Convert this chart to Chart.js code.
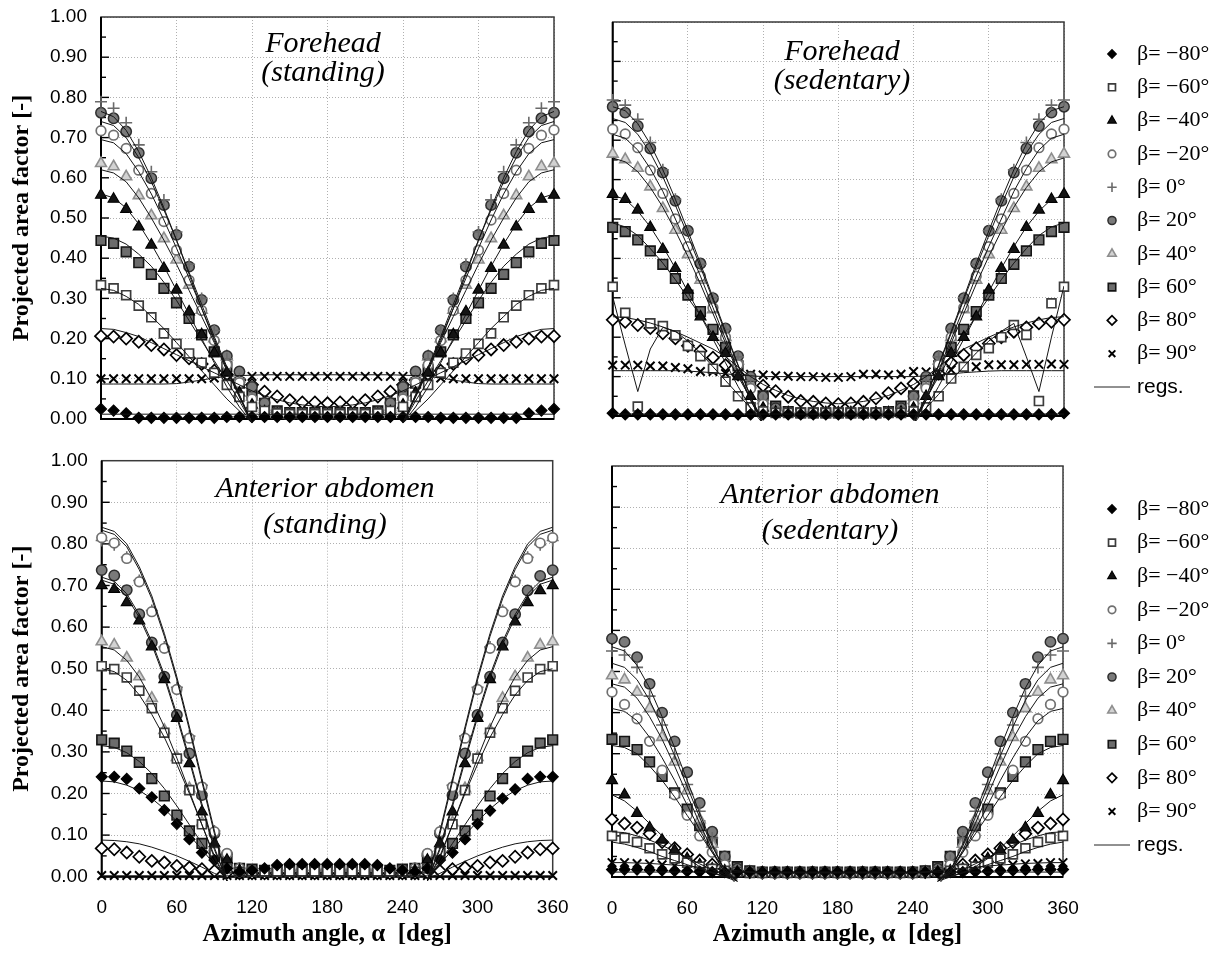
<!DOCTYPE html>
<html>
<head>
<meta charset="utf-8">
<title>Projected area factor vs azimuth angle</title>
<script src="https://cdn.jsdelivr.net/npm/chart.js@4.4.1/dist/chart.umd.min.js"></script>
<style>
  html, body { margin: 0; padding: 0; background: #fff; }
  body { width: 1220px; height: 953px; position: relative; overflow: hidden; font-family: "Liberation Sans", Arial, sans-serif; }
  canvas { position: absolute; }
  .ptitle { position: absolute; width: 320px; text-align: center; font-family: "Liberation Serif", "Times New Roman", serif;
            font-style: italic; font-size: 30px; line-height: 30px; color: #000; white-space: nowrap; }
</style>
</head>
<body>
<canvas id="fhStand" width="570" height="440" style="left:0;top:0"></canvas>
<canvas id="fhSed" width="650" height="440" style="left:570px;top:0"></canvas>
<canvas id="abStand" width="570" height="513" style="left:0;top:440px"></canvas>
<canvas id="abSed" width="650" height="513" style="left:570px;top:440px"></canvas>

<div class="ptitle" style="left:163px;top:27px">Forehead</div>
<div class="ptitle" style="left:163px;top:56px">(standing)</div>
<div class="ptitle" style="left:682px;top:35px">Forehead</div>
<div class="ptitle" style="left:682px;top:64px">(sedentary)</div>
<div class="ptitle" style="left:165px;top:472px">Anterior abdomen</div>
<div class="ptitle" style="left:165px;top:508px">(standing)</div>
<div class="ptitle" style="left:670px;top:478px">Anterior abdomen</div>
<div class="ptitle" style="left:670px;top:514px">(sedentary)</div>

<script>
// Azimuth angles of the measurement grid (deg)
const AZIMUTH = [0,10,20,30,40,50,60,70,80,90,100,110,120,130,140,150,160,170,180,
                 190,200,210,220,230,240,250,260,270,280,290,300,310,320,330,340,350,360];
const X_TICKS = [0,60,120,180,240,300,360];
const Y_TICKS = [0,0.1,0.2,0.3,0.4,0.5,0.6,0.7,0.8,0.9,1.0];
const BETA_LABELS = ['β= −80°','β= −60°','β= −40°','β= −20°','β= 0°','β= 20°','β= 40°','β= 60°','β= 80°','β= 90°'];

// ---- Forehead, standing: measured factors per altitude β ----
const FHS_M80 = [0.025,0.021,0.014,0.003,0.003,0.003,0.003,0.003,0.003,0.003,0.005,0.005,0.005,0.005,0.005,0.005,0.005,0.005,0.005,0.005,0.005,0.005,0.005,0.005,0.005,0.005,0.005,0.003,0.003,0.003,0.003,0.003,0.003,0.003,0.014,0.021,0.025];
const FHS_M60 = [0.333,0.325,0.308,0.282,0.253,0.213,0.187,0.163,0.14,0.115,0.085,0.055,0.03,0.02,0.014,0.012,0.012,0.012,0.012,0.012,0.012,0.012,0.014,0.02,0.03,0.055,0.085,0.115,0.14,0.163,0.187,0.213,0.253,0.282,0.308,0.325,0.333];
const FHS_M40 = [0.557,0.547,0.522,0.478,0.433,0.375,0.321,0.267,0.21,0.165,0.115,0.065,0.035,0.018,0.012,0.01,0.01,0.01,0.01,0.01,0.01,0.01,0.012,0.018,0.035,0.065,0.115,0.165,0.21,0.267,0.321,0.375,0.433,0.478,0.522,0.547,0.557];
const FHS_M20 = [0.717,0.706,0.673,0.619,0.561,0.491,0.42,0.345,0.27,0.195,0.135,0.09,0.05,0.022,0.012,0.01,0.01,0.01,0.01,0.01,0.01,0.01,0.012,0.022,0.05,0.09,0.135,0.195,0.27,0.345,0.42,0.495,0.561,0.619,0.673,0.706,0.719];
const FHS_P0  = [0.789,0.773,0.737,0.682,0.615,0.545,0.465,0.385,0.3,0.22,0.15,0.1,0.055,0.022,0.012,0.01,0.01,0.01,0.01,0.01,0.01,0.01,0.012,0.022,0.055,0.1,0.15,0.22,0.3,0.385,0.465,0.545,0.615,0.682,0.737,0.773,0.789];
const FHS_P20 = [0.762,0.748,0.715,0.662,0.599,0.532,0.458,0.379,0.296,0.221,0.157,0.118,0.08,0.04,0.018,0.012,0.01,0.01,0.01,0.01,0.01,0.012,0.018,0.04,0.08,0.118,0.157,0.221,0.296,0.379,0.458,0.532,0.599,0.662,0.715,0.748,0.762];
const FHS_P40 = [0.636,0.628,0.603,0.556,0.506,0.449,0.396,0.333,0.271,0.2,0.155,0.1,0.055,0.025,0.012,0.01,0.01,0.01,0.01,0.01,0.01,0.01,0.012,0.025,0.055,0.1,0.155,0.2,0.271,0.333,0.396,0.449,0.506,0.556,0.603,0.628,0.636];
const FHS_P60 = [0.444,0.437,0.416,0.389,0.36,0.325,0.289,0.25,0.209,0.167,0.13,0.089,0.06,0.039,0.02,0.016,0.016,0.016,0.016,0.016,0.016,0.016,0.02,0.039,0.06,0.089,0.122,0.167,0.209,0.25,0.289,0.325,0.36,0.389,0.416,0.437,0.444];
const FHS_P80 = [0.206,0.205,0.2,0.192,0.184,0.173,0.159,0.151,0.137,0.12,0.111,0.097,0.085,0.068,0.056,0.047,0.041,0.041,0.039,0.041,0.041,0.047,0.056,0.068,0.085,0.097,0.111,0.12,0.137,0.151,0.159,0.173,0.184,0.192,0.2,0.205,0.206];
const FHS_P90 = [0.1,0.1,0.1,0.1,0.1,0.1,0.1,0.1,0.1,0.102,0.104,0.105,0.106,0.106,0.106,0.106,0.106,0.106,0.106,0.106,0.106,0.106,0.106,0.106,0.106,0.105,0.104,0.102,0.1,0.1,0.1,0.1,0.1,0.1,0.1,0.1,0.1];

// Forehead, standing: regression curves
const FHS_FIT_M80 = [0.012,0.012,0.012,0.012,0.012,0.012,0.012,0.012,0.012,0.012,0.012,0.012,0.012,0.012,0.012,0.012,0.012,0.012,0.012,0.012,0.012,0.012,0.012,0.012,0.012,0.012,0.012,0.012,0.012,0.012,0.012,0.012,0.012,0.012,0.012,0.012,0.012];
const FHS_FIT_M60 = [0.325,0.32,0.305,0.285,0.255,0.225,0.19,0.155,0.12,0.085,0.05,0.02,-0.01,null,null,null,null,null,null,null,null,null,null,null,-0.01,0.02,0.05,0.085,0.12,0.155,0.19,0.225,0.255,0.285,0.305,0.32,0.325];
const FHS_FIT_M40 = [0.56,0.55,0.525,0.485,0.435,0.38,0.32,0.26,0.2,0.14,0.08,0.03,-0.01,null,null,null,null,null,null,null,null,null,null,null,-0.01,0.03,0.08,0.14,0.2,0.26,0.32,0.38,0.435,0.485,0.525,0.55,0.56];
const FHS_FIT_M20 = [0.695,0.687,0.66,0.615,0.56,0.495,0.425,0.35,0.275,0.2,0.125,0.055,-0.01,null,null,null,null,null,null,null,null,null,null,null,-0.01,0.055,0.125,0.2,0.275,0.35,0.425,0.495,0.56,0.615,0.66,0.687,0.695];
const FHS_FIT_P0  = [0.765,0.752,0.718,0.665,0.6,0.525,0.445,0.36,0.275,0.195,0.125,0.06,-0.01,null,null,null,null,null,null,null,null,null,null,null,-0.01,0.06,0.125,0.195,0.275,0.36,0.445,0.525,0.6,0.665,0.718,0.752,0.765];
const FHS_FIT_P20 = [0.74,0.73,0.7,0.65,0.59,0.52,0.445,0.365,0.285,0.205,0.13,0.06,-0.01,null,null,null,null,null,null,null,null,null,null,null,-0.01,0.06,0.13,0.205,0.285,0.365,0.445,0.52,0.59,0.65,0.7,0.73,0.74];
const FHS_FIT_P40 = [0.62,0.612,0.59,0.55,0.5,0.445,0.385,0.32,0.255,0.19,0.12,0.055,-0.01,null,null,null,null,null,null,null,null,null,null,null,-0.01,0.055,0.12,0.19,0.255,0.32,0.385,0.445,0.5,0.55,0.59,0.612,0.62];
const FHS_FIT_P60 = [0.455,0.45,0.435,0.41,0.38,0.34,0.295,0.245,0.195,0.145,0.095,0.045,-0.01,null,null,null,null,null,null,null,null,null,null,null,-0.01,0.045,0.095,0.145,0.195,0.245,0.295,0.34,0.38,0.41,0.435,0.45,0.455];
const FHS_FIT_P80 = [0.225,0.223,0.215,0.205,0.19,0.175,0.16,0.145,0.13,0.115,0.1,0.085,0.07,0.058,0.048,0.04,0.035,0.032,0.03,0.032,0.035,0.04,0.048,0.058,0.07,0.085,0.1,0.115,0.13,0.145,0.16,0.175,0.19,0.205,0.215,0.223,0.225];
const FHS_FIT_P90 = [0.087,0.087,0.087,0.087,0.087,0.087,0.088,0.092,0.097,0.102,0.106,0.108,0.109,0.11,0.11,0.11,0.11,0.11,0.11,0.11,0.11,0.11,0.11,0.11,0.109,0.108,0.106,0.102,0.097,0.092,0.088,0.087,0.087,0.087,0.087,0.087,0.087];

// ---- Forehead, sedentary ----
const FHD_M80 = [0.007,0.004,0.004,0.004,0.004,0.004,0.004,0.004,0.004,0.004,0.004,0.004,0.004,0.004,0.004,0.004,0.004,0.004,0.004,0.004,0.004,0.004,0.004,0.004,0.004,0.004,0.004,0.004,0.004,0.004,0.004,0.004,0.004,0.004,0.004,0.004,0.007];
const FHD_M60 = [0.328,0.262,0.024,0.235,0.228,0.205,0.178,0.152,0.12,0.087,0.05,0.022,0.012,0.008,0.008,0.008,0.008,0.008,0.008,0.008,0.008,0.008,0.008,0.008,0.012,0.022,0.05,0.095,0.125,0.155,0.172,0.2,0.231,0.206,0.038,0.286,0.328];
const FHD_M40 = [0.563,0.55,0.523,0.479,0.423,0.375,0.32,0.252,0.2,0.159,0.1,0.05,0.02,0.01,0.008,0.008,0.008,0.008,0.008,0.008,0.008,0.008,0.008,0.01,0.02,0.05,0.1,0.159,0.2,0.252,0.32,0.375,0.423,0.479,0.523,0.55,0.563];
const FHD_M20 = [0.728,0.716,0.681,0.624,0.565,0.5,0.43,0.355,0.275,0.2,0.13,0.07,0.03,0.012,0.008,0.008,0.008,0.008,0.008,0.008,0.008,0.008,0.008,0.012,0.03,0.07,0.13,0.2,0.275,0.355,0.43,0.5,0.565,0.624,0.681,0.716,0.728];
const FHD_P0  = [0.802,0.789,0.753,0.694,0.625,0.55,0.47,0.385,0.3,0.22,0.15,0.09,0.04,0.015,0.008,0.008,0.008,0.008,0.008,0.008,0.008,0.008,0.008,0.015,0.04,0.09,0.15,0.22,0.3,0.385,0.47,0.55,0.625,0.694,0.753,0.789,0.802];
const FHD_P20 = [0.785,0.77,0.736,0.679,0.618,0.546,0.47,0.387,0.299,0.222,0.152,0.1,0.05,0.02,0.01,0.008,0.008,0.008,0.008,0.008,0.008,0.008,0.01,0.02,0.05,0.1,0.152,0.222,0.299,0.387,0.47,0.546,0.618,0.679,0.736,0.77,0.785];
const FHD_P40 = [0.665,0.651,0.629,0.582,0.527,0.472,0.41,0.345,0.27,0.2,0.14,0.08,0.04,0.015,0.008,0.008,0.008,0.008,0.008,0.008,0.008,0.008,0.008,0.015,0.04,0.08,0.14,0.2,0.27,0.345,0.41,0.472,0.527,0.582,0.629,0.651,0.665];
const FHD_P60 = [0.479,0.468,0.447,0.419,0.385,0.349,0.307,0.265,0.22,0.174,0.127,0.087,0.051,0.025,0.011,0.008,0.008,0.008,0.008,0.008,0.008,0.008,0.011,0.025,0.051,0.087,0.127,0.174,0.22,0.265,0.307,0.349,0.385,0.419,0.447,0.468,0.479];
const FHD_P80 = [0.244,0.239,0.231,0.223,0.21,0.197,0.178,0.165,0.148,0.129,0.105,0.09,0.077,0.063,0.049,0.038,0.036,0.032,0.03,0.032,0.036,0.045,0.058,0.07,0.082,0.091,0.108,0.135,0.155,0.172,0.184,0.2,0.214,0.225,0.235,0.239,0.244];
const FHD_P90 = [0.129,0.129,0.129,0.127,0.127,0.123,0.12,0.113,0.113,0.108,0.11,0.106,0.104,0.102,0.101,0.1,0.1,0.098,0.098,0.1,0.106,0.106,0.104,0.106,0.113,0.112,0.108,0.117,0.125,0.125,0.13,0.13,0.13,0.131,0.131,0.132,0.131];

// Forehead, sedentary: regression curves
const FHD_FIT_M80 = [0.005,0.005,0.005,0.005,0.005,0.005,0.005,0.005,0.005,0.005,0.005,0.005,0.005,0.005,0.005,0.005,0.005,0.005,0.005,0.005,0.005,0.005,0.005,0.005,0.005,0.005,0.005,0.005,0.005,0.005,0.005,0.005,0.005,0.005,0.005,0.005,0.005];
const FHD_FIT_M60 = [0.303,0.18,0.062,0.17,0.225,0.215,0.19,0.16,0.125,0.09,0.055,0.02,-0.01,null,null,null,null,null,null,null,null,null,null,null,-0.01,0.02,0.055,0.09,0.125,0.16,0.19,0.215,0.235,0.15,0.062,0.2,0.33];
const FHD_FIT_M40 = [0.56,0.55,0.52,0.48,0.43,0.375,0.315,0.255,0.195,0.135,0.075,0.02,-0.02,null,null,null,null,null,null,null,null,null,null,null,-0.02,0.02,0.075,0.135,0.195,0.255,0.315,0.375,0.43,0.48,0.52,0.55,0.56];
const FHD_FIT_M20 = [0.715,0.705,0.675,0.628,0.57,0.5,0.43,0.355,0.275,0.195,0.115,0.04,-0.02,null,null,null,null,null,null,null,null,null,null,null,-0.02,0.04,0.115,0.195,0.275,0.355,0.43,0.5,0.57,0.628,0.675,0.705,0.715];
const FHD_FIT_P0  = [0.755,0.745,0.715,0.668,0.607,0.535,0.458,0.378,0.295,0.21,0.128,0.048,-0.02,null,null,null,null,null,null,null,null,null,null,null,-0.02,0.048,0.128,0.21,0.295,0.378,0.458,0.535,0.607,0.668,0.715,0.745,0.755];
const FHD_FIT_P20 = [0.785,0.775,0.742,0.69,0.625,0.55,0.47,0.387,0.3,0.215,0.13,0.05,-0.02,null,null,null,null,null,null,null,null,null,null,null,-0.02,0.05,0.13,0.215,0.3,0.387,0.47,0.55,0.625,0.69,0.742,0.775,0.785];
const FHD_FIT_P40 = [0.655,0.645,0.62,0.58,0.53,0.47,0.405,0.335,0.26,0.185,0.11,0.04,-0.02,null,null,null,null,null,null,null,null,null,null,null,-0.02,0.04,0.11,0.185,0.26,0.335,0.405,0.47,0.53,0.58,0.62,0.645,0.655];
const FHD_FIT_P60 = [0.49,0.48,0.458,0.425,0.388,0.346,0.3,0.255,0.205,0.155,0.1,0.045,-0.01,null,null,null,null,null,null,null,null,null,null,null,-0.01,0.045,0.1,0.155,0.205,0.255,0.3,0.346,0.388,0.425,0.458,0.48,0.49];
const FHD_FIT_P80 = [0.252,0.25,0.244,0.236,0.226,0.214,0.2,0.185,0.17,0.15,0.125,0.1,0.08,0.065,0.052,0.043,0.037,0.033,0.031,0.033,0.037,0.043,0.052,0.065,0.08,0.1,0.125,0.15,0.17,0.185,0.2,0.214,0.226,0.236,0.244,0.25,0.252];
const FHD_FIT_P90 = [0.115,0.115,0.115,0.115,0.115,0.115,0.114,0.112,0.11,0.107,0.104,0.102,0.1,0.1,0.1,0.1,0.1,0.1,0.1,0.1,0.1,0.1,0.1,0.1,0.1,0.102,0.104,0.107,0.11,0.112,0.114,0.115,0.115,0.115,0.115,0.115,0.115];

// ---- Anterior abdomen, standing ----
const ABS_M80 = [0.24,0.24,0.235,0.212,0.191,0.16,0.127,0.09,0.058,0.04,0.02,0.012,0.015,0.02,0.028,0.03,0.03,0.03,0.03,0.03,0.03,0.03,0.028,0.02,0.015,0.012,0.02,0.04,0.058,0.09,0.127,0.159,0.188,0.21,0.235,0.24,0.24];
const ABS_M60 = [0.506,0.499,0.479,0.447,0.405,0.346,0.284,0.208,0.126,0.06,0.02,0.012,0.012,0.012,0.012,0.012,0.012,0.012,0.012,0.012,0.012,0.012,0.012,0.012,0.012,0.012,0.02,0.06,0.126,0.208,0.284,0.346,0.405,0.447,0.479,0.499,0.506];
const ABS_M40 = [0.7,0.691,0.659,0.615,0.553,0.474,0.381,0.272,0.156,0.08,0.04,0.015,0.012,0.012,0.012,0.012,0.012,0.012,0.012,0.012,0.012,0.012,0.012,0.012,0.012,0.015,0.04,0.08,0.156,0.272,0.381,0.474,0.553,0.613,0.659,0.688,0.7];
const ABS_M20 = [0.815,0.802,0.765,0.709,0.637,0.549,0.45,0.333,0.216,0.108,0.056,0.02,0.015,0.015,0.015,0.015,0.015,0.015,0.015,0.015,0.015,0.015,0.015,0.015,0.015,0.02,0.056,0.108,0.216,0.333,0.45,0.549,0.637,0.709,0.765,0.802,0.815];
const ABS_P0  = [0.808,0.798,0.768,0.712,0.64,0.552,0.455,0.338,0.22,0.11,0.05,0.02,0.015,0.015,0.015,0.015,0.015,0.015,0.015,0.015,0.015,0.015,0.015,0.015,0.015,0.02,0.05,0.11,0.22,0.338,0.455,0.552,0.64,0.712,0.768,0.798,0.808];
const ABS_P20 = [0.737,0.724,0.689,0.631,0.563,0.481,0.389,0.296,0.196,0.104,0.054,0.02,0.015,0.015,0.015,0.015,0.015,0.015,0.015,0.015,0.015,0.015,0.015,0.015,0.015,0.02,0.054,0.104,0.196,0.296,0.389,0.481,0.563,0.631,0.688,0.723,0.737];
const ABS_P40 = [0.565,0.557,0.526,0.481,0.429,0.352,0.287,0.212,0.13,0.07,0.03,0.012,0.012,0.012,0.012,0.012,0.012,0.012,0.012,0.012,0.012,0.012,0.012,0.012,0.012,0.012,0.03,0.07,0.13,0.212,0.287,0.352,0.429,0.481,0.526,0.557,0.565];
const ABS_P60 = [0.329,0.321,0.302,0.275,0.236,0.194,0.148,0.11,0.08,0.056,0.036,0.02,0.018,0.015,0.015,0.015,0.015,0.015,0.015,0.015,0.015,0.015,0.015,0.015,0.018,0.02,0.036,0.056,0.08,0.11,0.148,0.194,0.236,0.275,0.302,0.321,0.329];
const ABS_P80 = [0.068,0.066,0.058,0.048,0.038,0.034,0.026,0.022,0.018,0.014,0.01,0.008,0.008,0.008,0.008,0.008,0.008,0.008,0.008,0.008,0.008,0.008,0.008,0.008,0.008,0.008,0.01,0.014,0.018,0.022,0.026,0.034,0.038,0.048,0.058,0.066,0.068];
const ABS_P90 = [0.003,0.003,0.003,0.003,0.003,0.003,0.003,0.003,0.003,0.003,0.003,0.003,0.003,0.003,0.003,0.003,0.003,0.003,0.003,0.003,0.003,0.003,0.003,0.003,0.003,0.003,0.003,0.003,0.003,0.003,0.003,0.003,0.003,0.003,0.003,0.003,0.003];

// Anterior abdomen, standing: regression curves
const ABS_FIT_M80 = [0.23,0.228,0.22,0.207,0.188,0.163,0.133,0.1,0.065,0.03,-0.005,null,null,null,null,null,null,null,null,null,null,null,null,null,null,null,-0.005,0.03,0.065,0.1,0.133,0.163,0.188,0.207,0.22,0.228,0.23];
const ABS_FIT_M60 = [0.5,0.493,0.472,0.437,0.39,0.335,0.27,0.2,0.125,0.05,-0.01,null,null,null,null,null,null,null,null,null,null,null,null,null,null,null,-0.01,0.05,0.125,0.2,0.27,0.335,0.39,0.437,0.472,0.493,0.5];
const ABS_FIT_M40 = [0.713,0.703,0.673,0.623,0.558,0.478,0.383,0.278,0.168,0.065,-0.01,null,null,null,null,null,null,null,null,null,null,null,null,null,null,null,-0.01,0.065,0.168,0.278,0.383,0.478,0.558,0.623,0.673,0.703,0.713];
const ABS_FIT_M20 = [0.833,0.823,0.793,0.738,0.668,0.578,0.473,0.353,0.228,0.103,-0.01,null,null,null,null,null,null,null,null,null,null,null,null,null,null,null,-0.01,0.103,0.228,0.353,0.473,0.578,0.668,0.738,0.793,0.823,0.833];
const ABS_FIT_P0  = [0.84,0.83,0.8,0.745,0.675,0.585,0.48,0.36,0.235,0.11,-0.01,null,null,null,null,null,null,null,null,null,null,null,null,null,null,null,-0.01,0.11,0.235,0.36,0.48,0.585,0.675,0.745,0.8,0.83,0.84];
const ABS_FIT_P20 = [0.72,0.71,0.68,0.63,0.565,0.485,0.39,0.285,0.175,0.07,-0.01,null,null,null,null,null,null,null,null,null,null,null,null,null,null,null,-0.01,0.07,0.175,0.285,0.39,0.485,0.565,0.63,0.68,0.71,0.72];
const ABS_FIT_P40 = [0.553,0.545,0.52,0.48,0.425,0.36,0.285,0.205,0.125,0.045,-0.01,null,null,null,null,null,null,null,null,null,null,null,null,null,null,null,-0.01,0.045,0.125,0.205,0.285,0.36,0.425,0.48,0.52,0.545,0.553];
const ABS_FIT_P60 = [0.315,0.311,0.298,0.277,0.248,0.212,0.17,0.125,0.08,0.035,-0.005,null,null,null,null,null,null,null,null,null,null,null,null,null,null,null,-0.005,0.035,0.08,0.125,0.17,0.212,0.248,0.277,0.298,0.311,0.315];
const ABS_FIT_P80 = [0.088,0.087,0.084,0.079,0.071,0.061,0.05,0.037,0.023,0.008,-0.005,null,null,null,null,null,null,null,null,null,null,null,null,null,null,null,-0.005,0.008,0.023,0.037,0.05,0.061,0.071,0.079,0.084,0.087,0.088];
const ABS_FIT_P90 = [0.002,0.002,0.002,0.002,0.002,0.002,0.002,0.002,0.002,0.002,0.002,0.002,0.002,0.002,0.002,0.002,0.002,0.002,0.002,0.002,0.002,0.002,0.002,0.002,0.002,0.002,0.002,0.002,0.002,0.002,0.002,0.002,0.002,0.002,0.002,0.002,0.002];

// ---- Anterior abdomen, sedentary ----
const ABD_M80 = [0.018,0.018,0.018,0.017,0.016,0.015,0.014,0.013,0.012,0.012,0.012,0.012,0.012,0.012,0.012,0.012,0.012,0.012,0.012,0.012,0.012,0.012,0.012,0.012,0.012,0.012,0.012,0.012,0.012,0.013,0.014,0.015,0.016,0.017,0.018,0.018,0.018];
const ABD_M60 = [0.1,0.095,0.085,0.07,0.055,0.045,0.035,0.025,0.02,0.015,0.012,0.01,0.01,0.01,0.01,0.01,0.01,0.01,0.01,0.01,0.01,0.01,0.01,0.01,0.01,0.01,0.012,0.015,0.02,0.025,0.035,0.045,0.055,0.07,0.085,0.095,0.1];
const ABD_M40 = [0.235,0.2,0.155,0.12,0.09,0.065,0.045,0.03,0.02,0.015,0.012,0.01,0.01,0.01,0.01,0.01,0.01,0.01,0.01,0.01,0.01,0.01,0.01,0.01,0.01,0.01,0.012,0.015,0.02,0.03,0.045,0.065,0.09,0.12,0.155,0.2,0.235];
const ABD_M20 = [0.45,0.42,0.385,0.33,0.26,0.2,0.15,0.1,0.06,0.03,0.015,0.012,0.01,0.01,0.01,0.01,0.01,0.01,0.01,0.01,0.01,0.01,0.01,0.01,0.01,0.012,0.015,0.03,0.06,0.1,0.15,0.2,0.26,0.33,0.385,0.42,0.45];
const ABD_P0  = [0.55,0.54,0.51,0.44,0.37,0.3,0.225,0.16,0.095,0.04,0.015,0.012,0.01,0.01,0.01,0.01,0.01,0.01,0.01,0.01,0.01,0.01,0.01,0.01,0.01,0.012,0.015,0.04,0.095,0.16,0.225,0.3,0.37,0.44,0.51,0.54,0.55];
const ABD_P20 = [0.58,0.572,0.535,0.47,0.4,0.33,0.255,0.18,0.11,0.05,0.02,0.015,0.012,0.012,0.012,0.012,0.012,0.012,0.012,0.012,0.012,0.012,0.012,0.012,0.012,0.015,0.02,0.05,0.11,0.18,0.255,0.33,0.4,0.47,0.535,0.572,0.58];
const ABD_P40 = [0.49,0.48,0.45,0.41,0.34,0.28,0.21,0.14,0.08,0.035,0.015,0.012,0.01,0.01,0.01,0.01,0.01,0.01,0.01,0.01,0.01,0.01,0.01,0.01,0.01,0.012,0.015,0.035,0.08,0.14,0.21,0.28,0.34,0.41,0.45,0.48,0.49];
const ABD_P60 = [0.335,0.33,0.31,0.28,0.245,0.205,0.165,0.125,0.085,0.05,0.025,0.015,0.012,0.012,0.012,0.012,0.012,0.012,0.012,0.012,0.012,0.012,0.012,0.012,0.012,0.015,0.025,0.05,0.085,0.125,0.165,0.205,0.245,0.28,0.31,0.33,0.335];
const ABD_P80 = [0.14,0.13,0.12,0.105,0.085,0.07,0.055,0.04,0.03,0.02,0.015,0.012,0.01,0.01,0.01,0.01,0.01,0.01,0.01,0.01,0.01,0.01,0.01,0.01,0.01,0.012,0.015,0.02,0.03,0.04,0.055,0.07,0.085,0.105,0.12,0.13,0.14];
const ABD_P90 = [0.035,0.035,0.033,0.032,0.03,0.027,0.025,0.022,0.02,0.018,0.015,0.012,0.01,0.01,0.01,0.01,0.01,0.01,0.01,0.01,0.01,0.01,0.01,0.01,0.01,0.012,0.015,0.018,0.02,0.022,0.025,0.027,0.03,0.032,0.033,0.035,0.035];

// Anterior abdomen, sedentary: regression curves
const ABD_FIT_M80 = [0.012,0.012,0.012,0.012,0.012,0.012,0.012,0.012,0.012,0.012,0.012,0.012,0.012,0.012,0.012,0.012,0.012,0.012,0.012,0.012,0.012,0.012,0.012,0.012,0.012,0.012,0.012,0.012,0.012,0.012,0.012,0.012,0.012,0.012,0.012,0.012,0.012];
const ABD_FIT_M60 = [0.085,0.08,0.072,0.062,0.05,0.04,0.03,0.02,0.01,0.002,-0.005,null,null,null,null,null,null,null,null,null,null,null,null,null,null,null,-0.005,0.002,0.01,0.02,0.03,0.04,0.05,0.062,0.072,0.08,0.085];
const ABD_FIT_M40 = [0.2,0.185,0.16,0.13,0.1,0.07,0.045,0.025,0.01,0.0,-0.01,null,null,null,null,null,null,null,null,null,null,null,null,null,null,null,-0.01,0.0,0.01,0.025,0.045,0.07,0.1,0.13,0.16,0.185,0.2];
const ABD_FIT_M20 = [0.41,0.403,0.38,0.34,0.29,0.235,0.175,0.115,0.06,0.01,-0.01,null,null,null,null,null,null,null,null,null,null,null,null,null,null,null,-0.01,0.01,0.06,0.115,0.175,0.235,0.29,0.34,0.38,0.403,0.41];
const ABD_FIT_P0  = [0.52,0.51,0.48,0.43,0.365,0.295,0.22,0.145,0.075,0.015,-0.01,null,null,null,null,null,null,null,null,null,null,null,null,null,null,null,-0.01,0.015,0.075,0.145,0.22,0.295,0.365,0.43,0.48,0.51,0.52];
const ABD_FIT_P20 = [0.56,0.55,0.515,0.46,0.39,0.315,0.235,0.155,0.08,0.015,-0.02,null,null,null,null,null,null,null,null,null,null,null,null,null,null,null,-0.02,0.015,0.08,0.155,0.235,0.315,0.39,0.46,0.515,0.55,0.56];
const ABD_FIT_P40 = [0.47,0.462,0.435,0.39,0.335,0.27,0.2,0.13,0.065,0.01,-0.01,null,null,null,null,null,null,null,null,null,null,null,null,null,null,null,-0.01,0.01,0.065,0.13,0.2,0.27,0.335,0.39,0.435,0.462,0.47];
const ABD_FIT_P60 = [0.32,0.315,0.3,0.27,0.235,0.195,0.15,0.105,0.06,0.02,-0.01,null,null,null,null,null,null,null,null,null,null,null,null,null,null,null,-0.01,0.02,0.06,0.105,0.15,0.195,0.235,0.27,0.3,0.315,0.32];
const ABD_FIT_P80 = [0.11,0.108,0.1,0.09,0.077,0.062,0.047,0.032,0.018,0.006,-0.005,null,null,null,null,null,null,null,null,null,null,null,null,null,null,null,-0.005,0.006,0.018,0.032,0.047,0.062,0.077,0.09,0.1,0.108,0.11];
const ABD_FIT_P90 = [0.035,0.035,0.034,0.033,0.031,0.029,0.027,0.024,0.021,0.018,0.015,0.012,0.01,0.01,0.01,0.01,0.01,0.01,0.01,0.01,0.01,0.01,0.01,0.01,0.01,0.012,0.015,0.018,0.021,0.024,0.027,0.029,0.031,0.033,0.034,0.035,0.035];

// Marker appearance for each altitude β (same order as BETA_LABELS)
const MARKERS = [
  { style: 'rectRot',  r: 5.5, fill: '#000000', line: '#000000', w: 1.2 },
  { style: 'rect',     r: 6.3, fill: '#ffffff', line: '#3c3c3c', w: 1.7 },
  { style: 'triangle', r: 6.3, fill: '#141414', line: '#000000', w: 1.2 },
  { style: 'circle',   r: 4.8, fill: '#ffffff', line: '#707070', w: 1.7 },
  { style: 'cross',    r: 6.0, fill: '#6a6a6a', line: '#6a6a6a', w: 1.6 },
  { style: 'circle',   r: 5.2, fill: '#7a7a7a', line: '#2e2e2e', w: 1.5 },
  { style: 'triangle', r: 6.3, fill: '#d2d2d2', line: '#8e8e8e', w: 1.6 },
  { style: 'rect',     r: 6.8, fill: '#6c6c6c', line: '#141414', w: 1.6 },
  { style: 'rectRot',  r: 6.0, fill: '#ffffff', line: '#000000', w: 1.7 },
  { style: 'crossRot', r: 6.0, fill: '#000000', line: '#000000', w: 2.0 }
];

function toPoints(values) {
  return values.map((v, i) => ({ x: AZIMUTH[i], y: v }));
}

function buildDatasets(measured, fitted) {
  const sets = [];
  fitted.forEach(vals => {
    sets.push({
      type: 'line', label: 'regs.', data: toPoints(vals),
      borderColor: '#141414', borderWidth: 1, pointRadius: 0, fill: false,
      tension: 0, spanGaps: false, order: 0,
      clip: { left: 0, top: 0, right: 0, bottom: 5 }
    });
  });
  measured.forEach((vals, k) => {
    const m = MARKERS[k];
    sets.push({
      type: 'scatter', label: BETA_LABELS[k], data: toPoints(vals).filter(p => p.y !== null),
      pointStyle: m.style, pointRadius: m.r, pointHoverRadius: m.r,
      pointBackgroundColor: m.fill, pointBorderColor: m.line, pointBorderWidth: m.w,
      showLine: false, clip: false, order: 1 + k
    });
  });
  return sets;
}

// Box around the plot area plus the short inward tick marks on the left axis
const panelFrame = {
  id: 'panelFrame',
  beforeDatasetsDraw(chart) {
    const { ctx, chartArea: a, scales } = chart;
    const y = scales.y;
    ctx.save();
    ctx.strokeStyle = '#000';
    ctx.lineWidth = 1.4;
    for (let k = 1; k < 20; k++) {
      const py = y.getPixelForValue(k / 20);
      const len = (k % 2 === 0) ? 8 : 5;
      ctx.beginPath();
      ctx.moveTo(a.left, py);
      ctx.lineTo(a.left + len, py);
      ctx.stroke();
    }
    ctx.strokeStyle = '#3a3a3a';
    ctx.lineWidth = 1.5;
    ctx.strokeRect(a.left, a.top, a.right - a.left, a.bottom - a.top);
    ctx.strokeStyle = '#000';
    ctx.lineWidth = 2;
    ctx.beginPath();
    ctx.moveTo(a.left, a.top);
    ctx.lineTo(a.left, a.bottom);
    ctx.lineTo(a.right, a.bottom);
    ctx.stroke();
    ctx.restore();
  }
};

function drawMarker(ctx, m, x, y, scale) {
  ctx.fillStyle = m.fill;
  ctx.strokeStyle = m.line;
  ctx.lineWidth = m.w;
  const opts = { pointStyle: m.style, radius: m.r * scale, borderWidth: m.w, rotation: 0 };
  if (Chart.helpers && Chart.helpers.drawPoint) {
    Chart.helpers.drawPoint(ctx, opts, x, y);
  } else {
    ctx.beginPath();
    ctx.arc(x, y, opts.radius, 0, Math.PI * 2);
    ctx.fill();
    ctx.stroke();
  }
}

// Key with the β symbols and the regression line sample
const betaLegend = {
  id: 'betaLegend',
  afterDraw(chart, args, o) {
    const ctx = chart.ctx;
    ctx.save();
    ctx.textBaseline = 'middle';
    ctx.textAlign = 'left';
    BETA_LABELS.forEach((txt, k) => {
      const yy = o.y0 + k * o.dy;
      drawMarker(ctx, MARKERS[k], o.mx, yy, 0.78);
      ctx.fillStyle = '#000';
      ctx.font = '22px "Liberation Serif", "Times New Roman", serif';
      ctx.fillText(txt, o.tx, yy);
    });
    const ry = o.y0 + 10 * o.dy;
    ctx.strokeStyle = '#222';
    ctx.lineWidth = 1;
    ctx.beginPath();
    ctx.moveTo(o.lx0, ry);
    ctx.lineTo(o.lx1, ry);
    ctx.stroke();
    ctx.fillStyle = '#000';
    ctx.font = '21px "Liberation Sans", Arial, sans-serif';
    ctx.fillText('regs.', o.tx, ry);
    ctx.restore();
  }
};

// keep the plot box exactly where the layout padding puts it
function noScalePadding(s) {
  s.paddingLeft = 0;
  s.paddingRight = 0;
  s.paddingTop = 0;
  s.paddingBottom = 0;
}

function makePanel(id, cfg) {
  const gridColor = '#b0b0b0';
  return new Chart(document.getElementById(id), {
    data: { datasets: buildDatasets(cfg.measured, cfg.fitted) },
    options: {
      responsive: false,
      animation: false,
      devicePixelRatio: 1,
      events: [],
      layout: { padding: cfg.pad, autoPadding: false },
      plugins: {
        legend: { display: false },
        tooltip: { enabled: false },
        betaLegend: cfg.legend || false
      },
      scales: {
        x: {
          type: 'linear', min: 0, max: 360,
          afterBuildTicks: s => { s.ticks = X_TICKS.map(v => ({ value: v })); },
          afterFit: s => { s.height = cfg.xh; noScalePadding(s); },
          ticks: {
            display: cfg.xLabels, padding: 20, color: '#000',
            font: { family: '"Liberation Sans", Arial, sans-serif', size: 19 }
          },
          grid: { color: gridColor, lineWidth: 1, drawTicks: false },
          border: { display: false, dash: [1, 2] },
          title: {
            display: cfg.xLabels, text: 'Azimuth angle, α  [deg]', color: '#000',
            font: { family: '"Liberation Serif", "Times New Roman", serif', size: 25, weight: 'bold' },
            padding: { top: 0, bottom: 3 }
          }
        },
        y: {
          type: 'linear', min: 0, max: 1,
          afterBuildTicks: s => { s.ticks = Y_TICKS.map(v => ({ value: v })); },
          afterFit: s => { s.width = cfg.yw; noScalePadding(s); },
          ticks: {
            display: cfg.yLabels, padding: 14, color: '#000',
            font: { family: '"Liberation Sans", Arial, sans-serif', size: 19 },
            callback: v => Number(v).toFixed(2)
          },
          grid: { color: gridColor, lineWidth: 1, drawTicks: false },
          border: { display: false, dash: [1, 2] },
          title: {
            display: cfg.yLabels, text: 'Projected area factor [-]', color: '#000',
            font: { family: '"Liberation Serif", "Times New Roman", serif', size: 24, weight: 'bold' },
            padding: { top: 7, bottom: 0 }
          }
        }
      }
    },
    plugins: [panelFrame, betaLegend]
  });
}

makePanel('fhStand', {
  measured: [FHS_M80, FHS_M60, FHS_M40, FHS_M20, FHS_P0, FHS_P20, FHS_P40, FHS_P60, FHS_P80, FHS_P90],
  fitted: [FHS_FIT_M80, FHS_FIT_M60, FHS_FIT_M40, FHS_FIT_M20, FHS_FIT_P0, FHS_FIT_P20, FHS_FIT_P40, FHS_FIT_P60, FHS_FIT_P80, FHS_FIT_P90],
  pad: { left: 0, top: 17, right: 16, bottom: 21 }, xh: 0, yw: 101,
  xLabels: false, yLabels: true
});

makePanel('fhSed', {
  measured: [FHD_M80, FHD_M60, FHD_M40, FHD_M20, FHD_P0, FHD_P20, FHD_P40, FHD_P60, FHD_P80, FHD_P90],
  fitted: [FHD_FIT_M80, FHD_FIT_M60, FHD_FIT_M40, FHD_FIT_M20, FHD_FIT_P0, FHD_FIT_P20, FHD_FIT_P40, FHD_FIT_P60, FHD_FIT_P80, FHD_FIT_P90],
  pad: { left: 0, top: 22, right: 156, bottom: 24 }, xh: 0, yw: 42.7,
  xLabels: false, yLabels: false,
  legend: { mx: 542, tx: 567, lx0: 524, lx1: 560, y0: 54, dy: 33.3 }
});

makePanel('abStand', {
  measured: [ABS_M80, ABS_M60, ABS_M40, ABS_M20, ABS_P0, ABS_P20, ABS_P40, ABS_P60, ABS_P80, ABS_P90],
  fitted: [ABS_FIT_M80, ABS_FIT_M60, ABS_FIT_M40, ABS_FIT_M20, ABS_FIT_P0, ABS_FIT_P20, ABS_FIT_P40, ABS_FIT_P60, ABS_FIT_P80, ABS_FIT_P90],
  pad: { left: 0, top: 20.7, right: 17.3, bottom: 0 }, xh: 76.3, yw: 101.7,
  xLabels: true, yLabels: true
});

makePanel('abSed', {
  measured: [ABD_M80, ABD_M60, ABD_M40, ABD_M20, ABD_P0, ABD_P20, ABD_P40, ABD_P60, ABD_P80, ABD_P90],
  fitted: [ABD_FIT_M80, ABD_FIT_M60, ABD_FIT_M40, ABD_FIT_M20, ABD_FIT_P0, ABD_FIT_P20, ABD_FIT_P40, ABD_FIT_P60, ABD_FIT_P80, ABD_FIT_P90],
  pad: { left: 0, top: 26, right: 157, bottom: 0 }, xh: 76, yw: 42,
  xLabels: true, yLabels: false,
  legend: { mx: 542, tx: 567, lx0: 524, lx1: 560, y0: 69, dy: 33.6 }
});
</script>
</body>
</html>
